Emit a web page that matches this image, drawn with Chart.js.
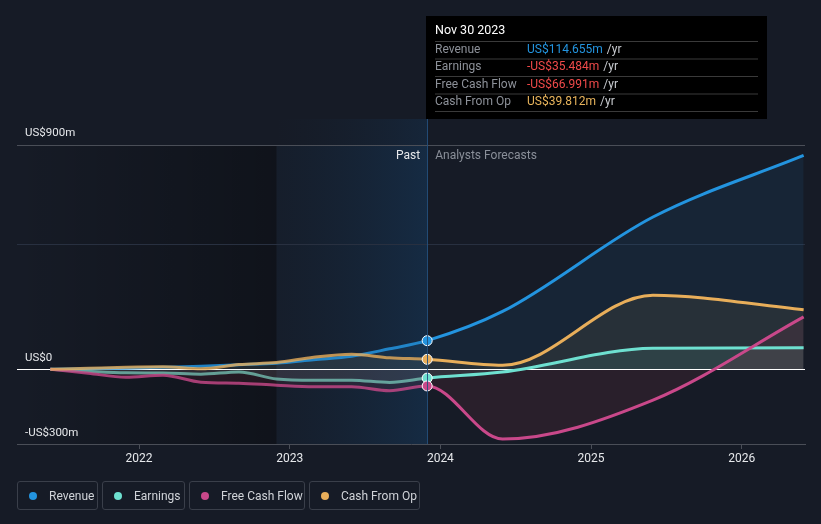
<!DOCTYPE html>
<html>
<head>
<meta charset="utf-8">
<script src="https://cdn.jsdelivr.net/npm/chart.js@4/dist/chart.umd.min.js"></script>
<style>
  html,body{margin:0;padding:0;background:#161b26;}
  #wrap{position:relative;width:821px;height:524px;font-family:Roboto,"Noto Sans",sans-serif;}
  canvas{position:absolute;left:0;top:0;}
  .lg{position:absolute;top:481px;height:29px;border:1px solid #3a3f4a;border-radius:3px;box-sizing:border-box;color:#d0d3d8;font-size:12px;line-height:28px;padding-left:31px;}
  .lg i{position:absolute;left:11px;top:10px;width:8px;height:8px;border-radius:50%;}
</style>
</head>
<body>
<div id="wrap">
<canvas id="c" width="821" height="524"></canvas>
<div class="lg" style="left:17px;width:81px"><i style="background:#2394df"></i>Revenue</div>
<div class="lg" style="left:102px;width:83px"><i style="background:#6ee0d0"></i>Earnings</div>
<div class="lg" style="left:189px;width:116px"><i style="background:#c9488a"></i>Free Cash Flow</div>
<div class="lg" style="left:309px;width:111px"><i style="background:#e8ae5a"></i>Cash From Op</div>
</div>
<script>
const dates = ['2021-05-31','2021-08-31','2021-11-30','2022-02-28','2022-05-31','2022-08-31','2022-11-30','2023-02-28','2023-05-31','2023-08-31','2023-11-30','2024-05-31','2025-05-31','2026-05-31'];
const revenue  = [0, 2, 4, 8, 12, 18, 24, 38, 52, 82, 114.655, 232, 611, 858];
const earnings = [0, -8, -14, -15, -20, -11, -39, -44, -44, -53, -35.484, -11, 84, 86];
const fcf      = [0, -16, -32, -24, -52, -56, -64, -70, -70, -86, -66.991, -280, -124, 210];
const cfo      = [0, 4, 8, 10, 2, 19, 27, 48, 60, 46, 39.812, 16, 297, 239];
const yearTicks = [2022, 2023, 2024, 2025, 2026];
const yGridTicks = [-300, 0, 500, 900];
const yLabels = [{v:900,t:'US$900m'},{v:0,t:'US$0'},{v:-300,t:'-US$300m'}];
const nowIndex = 10;
const tooltipTitle = 'Nov 30 2023';

function decYear(s){
  const [y,m,d] = s.split('-').map(Number);
  const start = Date.UTC(y,0,1), end = Date.UTC(y+1,0,1);
  return y + (Date.UTC(y,m-1,d)-start)/(end-start);
}
const xs = dates.map(decYear);
const pts = arr => arr.map((v,i)=>({x:xs[i],y:v}));

const series = [
  {label:'Revenue', data:revenue, color:'#2394df', faded:'rgba(35,148,223,0.85)', fill:'rgba(35,148,223,0.09)'},
  {label:'Earnings', data:earnings, color:'#6ee0d0', faded:'rgba(120,200,185,0.75)', fill:'rgba(110,224,208,0.10)'},
  {label:'Free Cash Flow', data:fcf, color:'#c9488a', faded:'rgba(201,72,138,0.8)', fill:'rgba(201,60,90,0.11)'},
  {label:'Cash From Op', data:cfo, color:'#e8ae5a', faded:'rgba(232,174,90,0.8)', fill:'rgba(232,174,90,0.08)'}
];

const datasets = series.map(s=>({
  label:s.label,
  data:pts(s.data),
  borderColor:s.color,
  backgroundColor:s.fill,
  fill:'origin',
  borderWidth:3,
  cubicInterpolationMode:'monotone',
  pointRadius:s.data.map((_,i)=>i===nowIndex?5:0),
  pointBackgroundColor:s.color,
  pointBorderColor:'#ffffff',
  pointBorderWidth:1,
  segment:{borderColor:ctx=>ctx.p1DataIndex<=nowIndex?s.faded:s.color}
}));
datasets.reverse();

const bgPlugin = {
  id:'bg',
  beforeDraw(chart){
    const {ctx, chartArea:a, scales:{x}} = chart;
    ctx.save();
    ctx.fillStyle='#161b26';
    ctx.fillRect(0,0,chart.width,chart.height);
    const xNow = x.getPixelForValue(xs[nowIndex]);
    const xPast = x.getPixelForValue(xs[6]);
    let g = ctx.createLinearGradient(a.left,0,xPast,0);
    g.addColorStop(0,'rgba(0,0,0,0)');
    g.addColorStop(1,'rgba(0,0,0,0.3)');
    ctx.fillStyle=g;
    ctx.fillRect(a.left,a.top,xPast-a.left,a.bottom-a.top);
    g = ctx.createLinearGradient(xPast,0,xNow,0);
    g.addColorStop(0,'rgba(20,50,80,0.12)');
    g.addColorStop(1,'rgba(20,80,135,0.3)');
    ctx.fillStyle=g;
    ctx.fillRect(xPast,a.top,xNow-xPast,a.bottom-a.top);
    g = ctx.createLinearGradient(xPast,0,xNow,0);
    g.addColorStop(0,'rgba(20,50,80,0.0)');
    g.addColorStop(1,'rgba(20,80,135,0.2)');
    ctx.fillStyle=g;
    ctx.fillRect(xPast,119,xNow-xPast,a.top-119);
    ctx.restore();
  },
  beforeDatasetsDraw(chart){
    const {ctx, chartArea:a, scales:{y}} = chart;
    const y0 = Math.round(y.getPixelForValue(0))+0.5;
    ctx.save();
    ctx.strokeStyle='#ffffff';
    ctx.lineWidth=1.2;
    ctx.beginPath();ctx.moveTo(a.left,y0);ctx.lineTo(a.right,y0);ctx.stroke();
    ctx.restore();
  },
  afterDraw(chart){
    const {ctx, chartArea:a, scales:{x,y}} = chart;
    ctx.save();
    ctx.font='11.5px Roboto, sans-serif';
    ctx.fillStyle='#e6e8eb';
    ctx.textBaseline='middle';
    yLabels.forEach(l=>{
      ctx.fillText(l.t, 25, y.getPixelForValue(l.v)-(l.v===900?12:11));
    });
    const xNow = x.getPixelForValue(xs[nowIndex]);
    ctx.strokeStyle='rgba(35,80,125,0.9)';
    ctx.lineWidth=1;
    ctx.beginPath();ctx.moveTo(Math.round(xNow)+0.5,119);ctx.lineTo(Math.round(xNow)+0.5,a.bottom);ctx.stroke();
    ctx.font='12px Roboto, sans-serif';
    ctx.textAlign='right';
    ctx.fillStyle='#e6e8eb';
    ctx.fillText('Past', xNow-7, 156);
    ctx.textAlign='left';
    ctx.fillStyle='#8a8f99';
    ctx.fillText('Analysts Forecasts', xNow+8, 156);
    const bx=426, by=16, bw=341, bh=103;
    ctx.fillStyle='#000000';
    ctx.fillRect(bx,by,bw,bh);
    ctx.fillStyle='#ffffff';
    ctx.font='12.5px Roboto, sans-serif';
    ctx.fillText(tooltipTitle, 435, 31);
    ctx.font='12px Roboto, sans-serif';
    const rows = [
      {l:'Revenue', v:revenue[nowIndex], c:'#2394df'},
      {l:'Earnings', v:earnings[nowIndex], c:'#f04a4a'},
      {l:'Free Cash Flow', v:fcf[nowIndex], c:'#f04a4a'},
      {l:'Cash From Op', v:cfo[nowIndex], c:'#e8b45c'}
    ];
    const seps=[41,58.5,76,93.5,111];
    ctx.strokeStyle='#3a3a3a';
    seps.forEach(s=>{ctx.beginPath();ctx.moveTo(435,s+0.5);ctx.lineTo(758,s+0.5);ctx.stroke();});
    rows.forEach((r,i)=>{
      const yy = 49.5 + i*17.5;
      ctx.fillStyle='#8d9199';
      ctx.fillText(r.l, 435, yy);
      const txt = (r.v<0?'-':'')+'US$'+Math.abs(r.v).toFixed(3)+'m';
      ctx.fillStyle=r.c;
      ctx.fillText(txt, 527, yy);
      const w = ctx.measureText(txt).width;
      ctx.fillStyle='#c8cbd0';
      ctx.fillText(' /yr', 527+w+1, yy);
    });
    ctx.restore();
  }
};

new Chart(document.getElementById('c'), {
  type:'line',
  data:{datasets},
  options:{
    responsive:false,
    animation:false,
    layout:{padding:{left:17,right:16,top:145,bottom:0}},
    plugins:{legend:{display:false},tooltip:{enabled:false},filler:{drawTime:'beforeDatasetsDraw'}},
    scales:{
      x:{
        type:'linear',
        min:2021.19, max:2026.42,
        afterBuildTicks:s=>{s.ticks=yearTicks.map(v=>({value:v}));},
        afterFit:s=>{s.height=80;},
        ticks:{color:'#e6e8eb',font:{family:'Roboto',size:12},padding:3,maxRotation:0,callback:v=>String(v)},
        grid:{drawOnChartArea:false,tickLength:5,color:'#4a4e57'},
        border:{color:'#4a4e57',width:1}
      },
      y:{
        min:-300, max:900,
        afterBuildTicks:s=>{s.ticks=yGridTicks.map(v=>({value:v}));},
        afterFit:s=>{s.width=0;},
        ticks:{display:false},
        grid:{drawTicks:false,color:c=>c.tick.value===900?'#4a4e57':(c.tick.value===500?'#283040':'rgba(0,0,0,0)')},
        border:{display:false}
      }
    }
  },
  plugins:[bgPlugin]
});
</script>
</body>
</html>
